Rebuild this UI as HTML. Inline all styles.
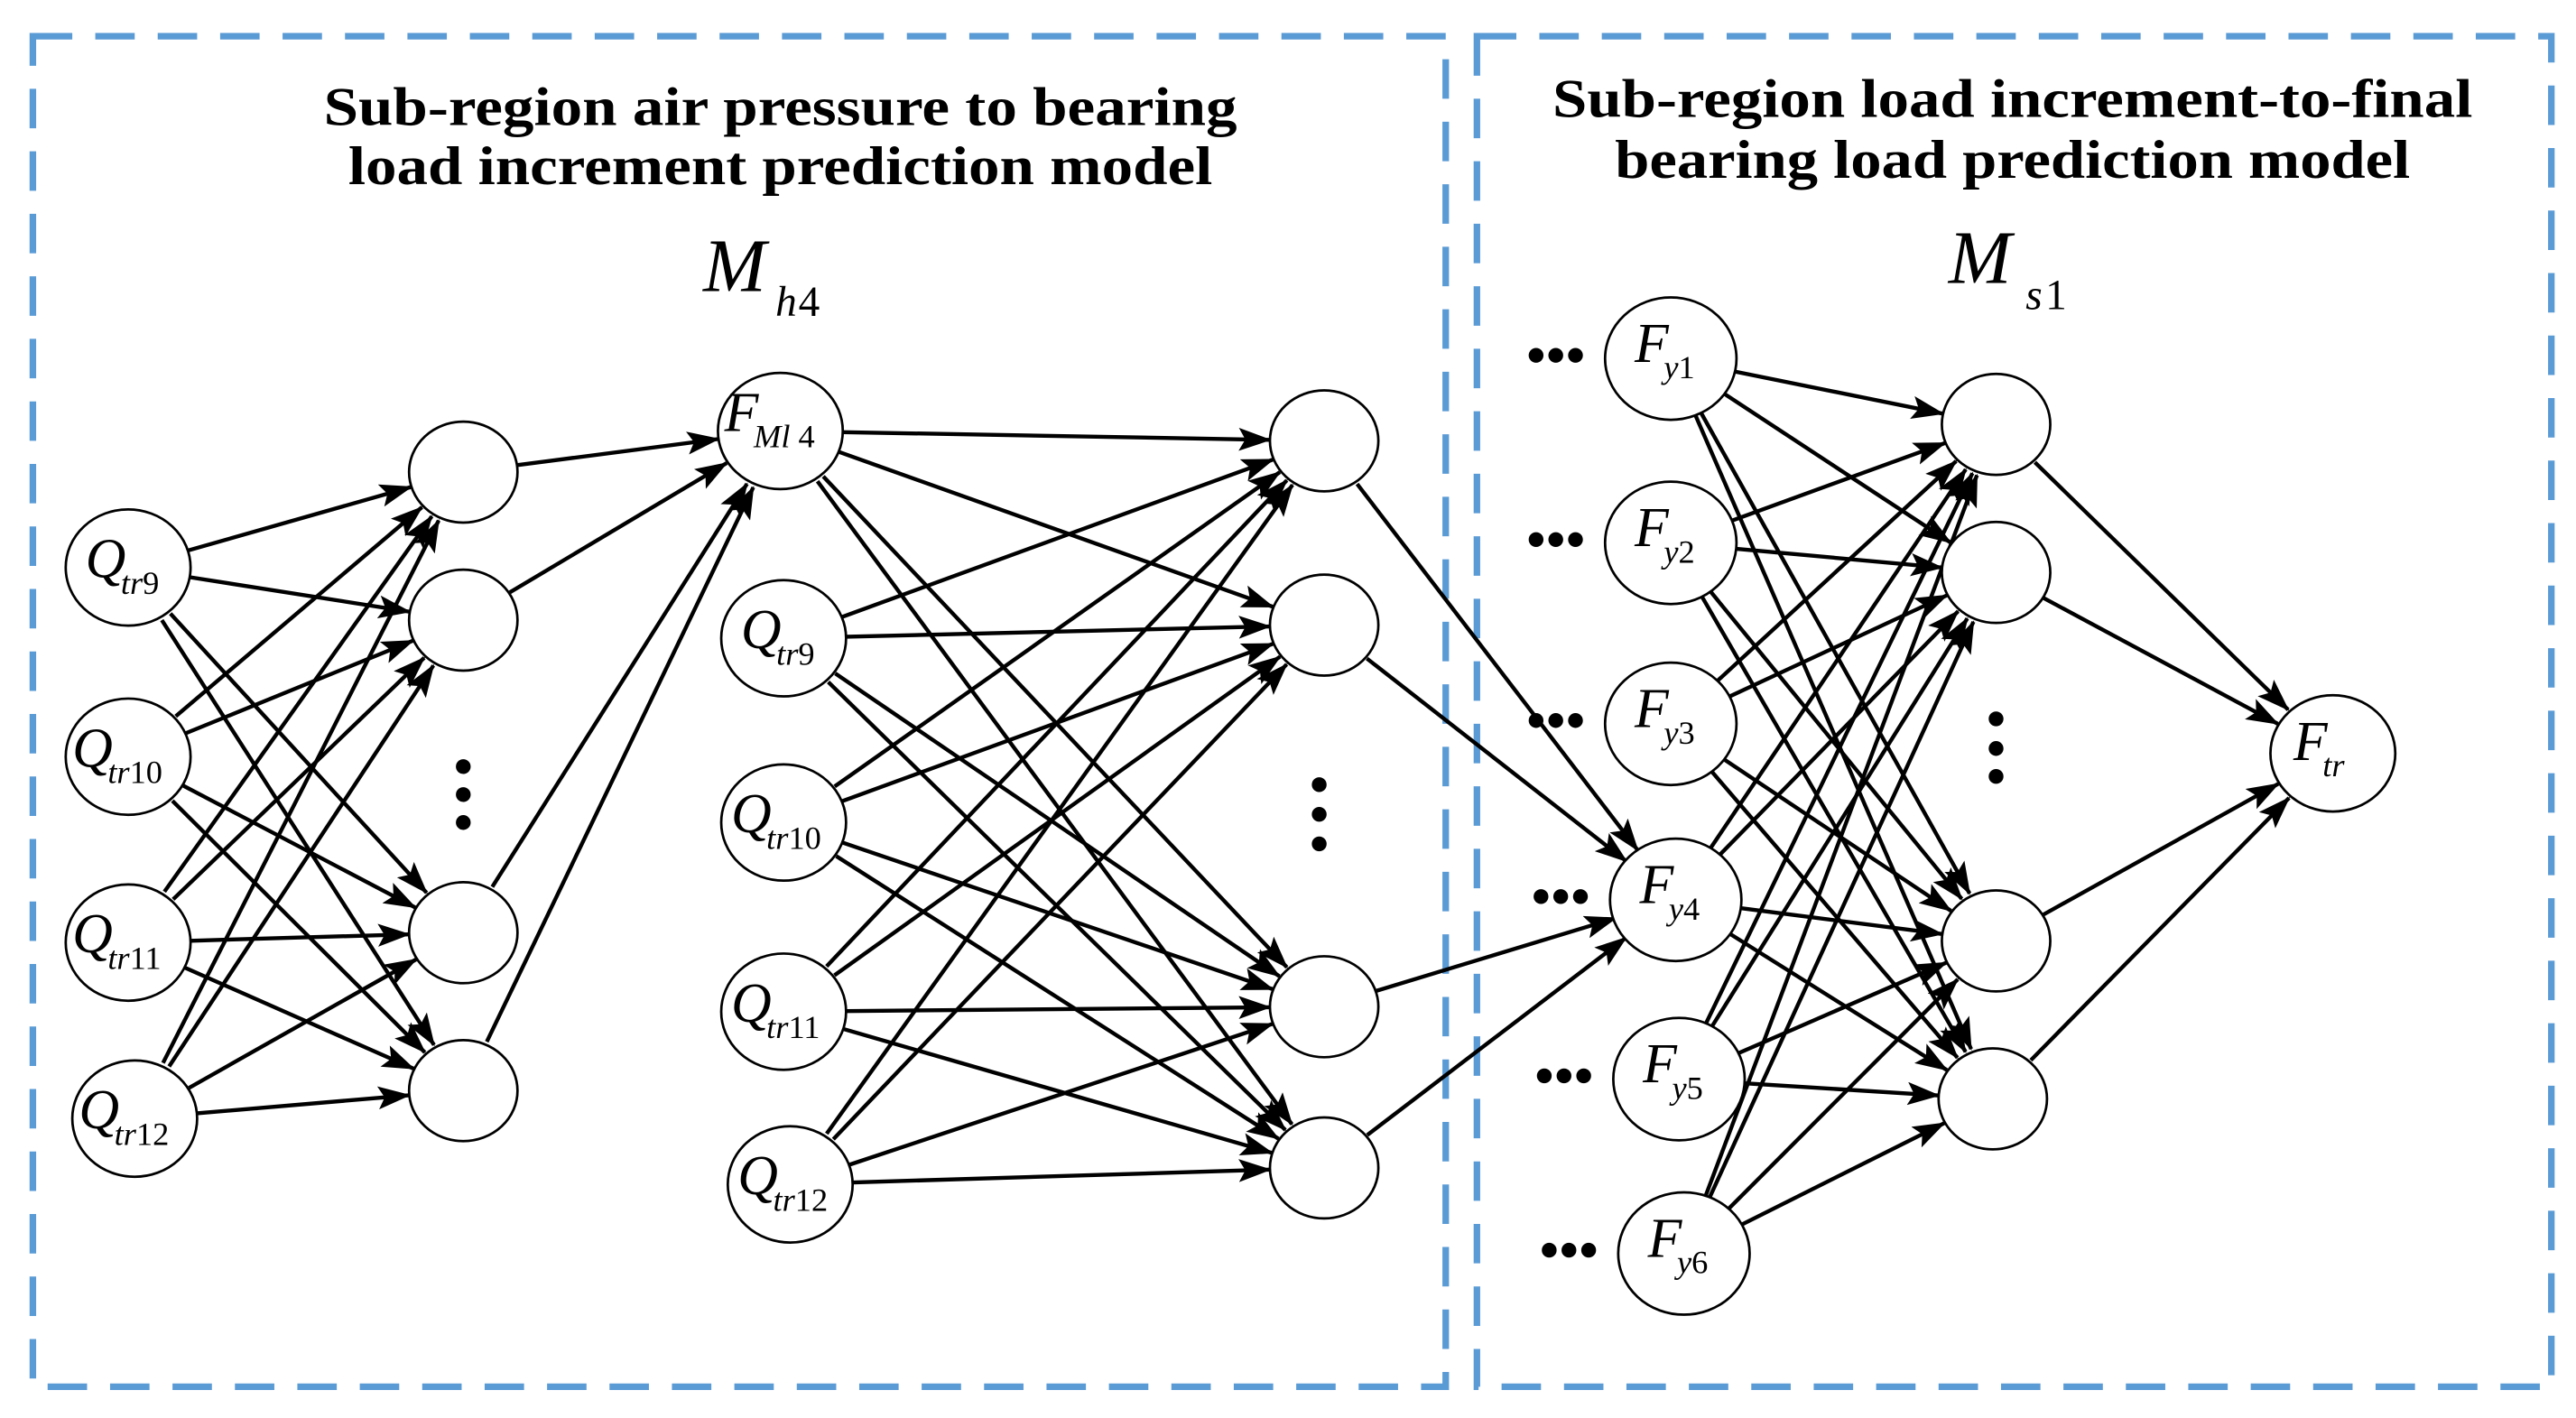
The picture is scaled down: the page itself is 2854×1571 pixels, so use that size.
<!DOCTYPE html>
<html><head><meta charset="utf-8"><style>
html,body{margin:0;padding:0;background:#fff}
svg{display:block}
text{font-family:"Liberation Serif",serif}
</style></head><body>
<svg width="2854" height="1571" viewBox="0 0 1568 862" preserveAspectRatio="none" xmlns="http://www.w3.org/2000/svg">
<defs>
<marker id="a" markerWidth="20" markerHeight="14" refX="19" refY="7" orient="auto" markerUnits="userSpaceOnUse" viewBox="0 0 20 14">
<path d="M0,0 L20,7 L0,14 L4,7 z" fill="#000"/></marker>
</defs>
<rect x="20" y="22" width="860" height="821" fill="none" stroke="#5b9bd5" stroke-width="4" stroke-dasharray="24,14"/>
<rect x="899" y="22" width="654" height="821" fill="none" stroke="#5b9bd5" stroke-width="4" stroke-dasharray="24,14"/>
<g font-weight="bold" font-size="33" text-anchor="middle" lengthAdjust="spacingAndGlyphs">
<text x="475" y="76" textLength="556" lengthAdjust="spacingAndGlyphs">Sub-region air pressure to bearing</text>
<text x="475" y="112" textLength="526" lengthAdjust="spacingAndGlyphs">load increment prediction model</text>
<text x="1225" y="71" textLength="560" lengthAdjust="spacingAndGlyphs">Sub-region load increment-to-final</text>
<text x="1225" y="108" textLength="484" lengthAdjust="spacingAndGlyphs">bearing load prediction model</text>
</g>
<text x="428" y="177" font-size="46" font-style="italic">M</text><text x="472" y="192" font-size="26" font-style="italic">h</text><text x="486" y="192" font-size="26">4</text>
<text x="1186" y="172" font-size="46" font-style="italic">M</text><text x="1233" y="188" font-size="26" font-style="italic">s</text><text x="1245" y="188" font-size="26">1</text>
<g id="edges" stroke="#000" stroke-width="2.4" fill="none" marker-end="url(#a)"></g>
<g id="nodes" stroke="#000" stroke-width="1.5" fill="#fff"></g>
<g id="labels" font-style="italic"></g>
<g fill="#000">
<circle cx="282" cy="466" r="4.5"/><circle cx="282" cy="483" r="4.5"/><circle cx="282" cy="500" r="4.5"/>
<circle cx="803" cy="477" r="4.5"/><circle cx="803" cy="495" r="4.5"/><circle cx="803" cy="513" r="4.5"/>
<circle cx="1215" cy="437" r="4.5"/><circle cx="1215" cy="455" r="4.5"/><circle cx="1215" cy="472" r="4.5"/>
</g>
<g id="hdots" fill="#000"></g>
<script>
var NS="http://www.w3.org/2000/svg";
function el(p,t,a,txt){var e=document.createElementNS(NS,t);for(var k in a)e.setAttribute(k,a[k]);if(txt)e.textContent=txt;document.getElementById(p).appendChild(e);return e;}
var in1=[[78,345],[78,460],[78,573],[82,680]];
var h1=[[282,287],[282,377],[282,567],[282,663]];
var mid=[[475,262],[477,388],[477,500],[477,615],[481,720]];
var h2=[[806,268],[806,380],[806,612],[806,710]];
var fy=[[1017,218],[1017,330],[1017,440],[1020,547],[1022,656],[1025,762]];
var h3=[[1215,258],[1215,348],[1215,572],[1213,668]];
var ftr=[1420,458];
var R=38,r=33;
function edge(p,q,rs,rt){var dx=q[0]-p[0],dy=q[1]-p[1],d=Math.hypot(dx,dy);
el("edges","line",{x1:p[0]+dx/d*rs,y1:p[1]+dy/d*rs,x2:q[0]-dx/d*rt,y2:q[1]-dy/d*rt});}
in1.forEach(p=>h1.forEach(q=>edge(p,q,R,r)));
h1.forEach(p=>edge(p,mid[0],r,R));
mid.forEach(p=>h2.forEach(q=>edge(p,q,R,r)));
h2.forEach(p=>edge(p,fy[3],r,R));
fy.forEach(p=>h3.forEach(q=>edge(p,q,R,r)));
h3.forEach(p=>edge(p,ftr,r,R));
function node(c,rad){el("nodes","ellipse",{cx:c[0],cy:c[1],rx:rad,ry:rad*0.93});}
in1.forEach(c=>node(c,R));mid.forEach(c=>node(c,R));fy.forEach(c=>node(c,R+2));node(ftr,R);
h1.forEach(c=>node(c,r));h2.forEach(c=>node(c,r));h3.forEach(c=>node(c,r));
function lab(c,main,sub,num){var t=el("labels","text",{x:c[0]-26,y:c[1]+6,"font-size":34});
var a=document.createElementNS(NS,"tspan");a.textContent=main;t.appendChild(a);
var b=document.createElementNS(NS,"tspan");b.setAttribute("font-size","20");b.setAttribute("dy","10");b.setAttribute("dx","-3");b.textContent=sub;t.appendChild(b);
if(num){var n=document.createElementNS(NS,"tspan");n.setAttribute("font-size","20");n.setAttribute("font-style","normal");n.textContent=num;t.appendChild(n);}}
var qn=["9","10","11","12"];
in1.forEach((c,i)=>lab([c[0]-8+(i==0?8:0),c[1]],"Q","tr",qn[i]));
lab([mid[0][0]-8,mid[0][1]-6],"F","Ml ","4");
for(var i=1;i<5;i++)lab([mid[i][0]-6+(i==1?6:0),mid[i][1]],"Q","tr",qn[i-1]);
fy.forEach((c,i)=>{lab([c[0]+4,c[1]-4],"F","y",String(i+1));
[-82,-70,-58].forEach(o=>el("hdots","circle",{cx:c[0]+o,cy:c[1]-2,r:4.5}));});
lab([ftr[0]+2,ftr[1]-2],"F","tr","");
</script>
</svg>
</body></html>
